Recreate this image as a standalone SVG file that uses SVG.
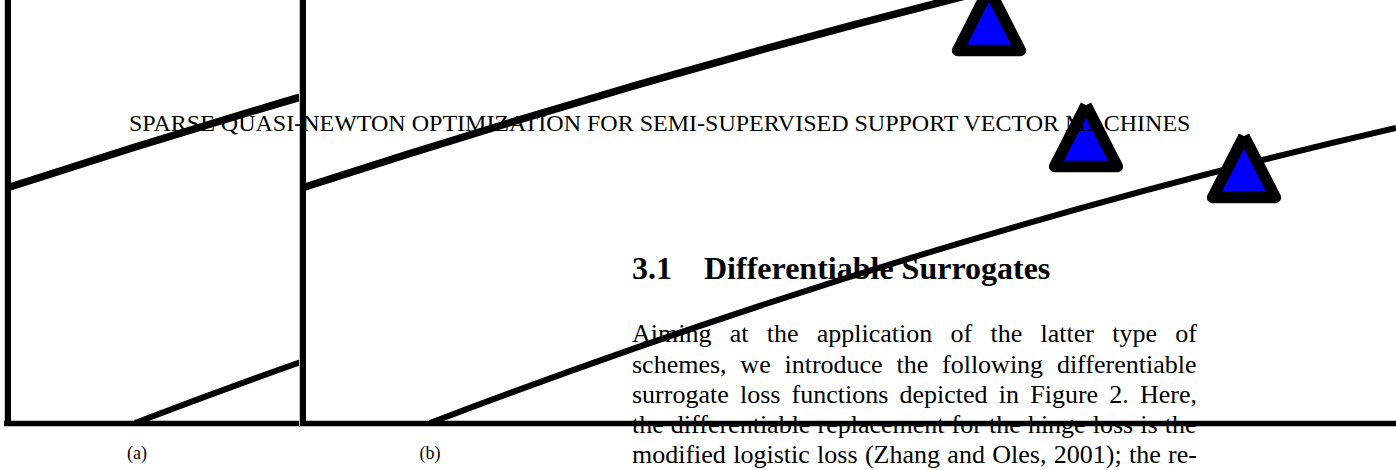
<svg xmlns="http://www.w3.org/2000/svg" width="1396" height="470" viewBox="0 0 1396 470">
  <style>
    .axis { stroke: #000; stroke-width: 6; fill: none; }
    .axis-x { stroke-width: 5.5; }
    .curve { stroke: #000; fill: none; stroke-linecap: butt; }
    .c-upper { stroke-width: 7.5; }
    .c-lower { stroke-width: 6; }
    .marker { fill: #0000ff; stroke: #000; stroke-width: 11.5; stroke-linejoin: round; stroke-linecap: butt; }
    .edge { stroke: #c4c4c4; stroke-width: 1; fill: none; }
    text { font-family: "Liberation Serif", "Times New Roman", serif; fill: #000; }
    .head { font-size: 24px; }
    .sec { font-size: 32px; font-weight: bold; }
    .body { font-size: 26px; }
    .cap { font-size: 18px; text-anchor: middle; }
  </style>
  <defs>
    <clipPath id="clip-a">
      <rect x="4" y="0" width="295" height="470"/>
    </clipPath>
    <!-- the two loss curves, in the coordinates of the right-hand plot -->
    <g id="curves">
      <path class="curve c-upper" d="M305,187 Q655,73 1005,-14"/>
      <path class="curve c-lower" d="M430,423 Q913,239 1396,128"/>
    </g>
    <!-- open triangle outline: butt caps leave the small notch at the apex -->
    <path id="tri" d="M0,-61.4 L31.4,0 L-31.4,0 L0,-61.4"/>
  </defs>

  <!-- left plot: same curves, shifted and cropped -->
  <g id="panel-a">
    <g clip-path="url(#clip-a)">
      <use href="#curves" transform="translate(-295,0)"/>
    </g>
    <line class="edge" x1="4.5" y1="0" x2="4.5" y2="421"/>
    <line class="edge" x1="299.5" y1="0" x2="299.5" y2="427"/>
    <line class="axis" x1="8" y1="0" x2="8" y2="426"/>
    <line class="axis axis-x" x1="4" y1="423.5" x2="299" y2="423.5"/>
  </g>

  <!-- right plot -->
  <g id="panel-b">
    <use href="#curves"/>
    <line class="axis" x1="303" y1="0" x2="303" y2="426"/>
    <line class="axis axis-x" x1="300" y1="423.5" x2="1396" y2="423.5"/>
    <g id="markers">
      <use href="#tri" class="marker" transform="translate(989,50.5)"/>
      <use href="#tri" class="marker" transform="translate(1086,166.5)"/>
      <use href="#tri" class="marker" transform="translate(1244,197.5)"/>
    </g>
  </g>

  <g id="running-head">
    <text class="head" x="129" y="131">SPARSE QUASI-NEWTON OPTIMIZATION FOR SEMI-SUPERVISED SUPPORT VECTOR MACHINES</text>
  </g>

  <g id="section-heading">
    <text class="sec" y="279"><tspan x="632">3.1</tspan><tspan x="704">Differentiable Surrogates</tspan></text>
  </g>

  <!-- justified paragraph: word spacing set per line to fill the column -->
  <g id="paragraph">
    <text class="body" x="632" y="342" style="word-spacing:11.77px">Aiming at the application of the latter type of</text>
    <text class="body" x="632" y="372.5" style="word-spacing:7.29px">schemes, we introduce the following differentiable</text>
    <text class="body" x="632" y="403" style="word-spacing:4.69px">surrogate loss functions depicted in Figure 2. Here,</text>
    <text class="body" x="632" y="433" style="word-spacing:0.59px">the differentiable replacement for the hinge loss is the</text>
    <text class="body" x="632" y="463" style="word-spacing:0.85px">modified logistic loss (Zhang and Oles, 2001); the re-</text>
  </g>

  <g id="captions">
    <text class="cap" x="137" y="459">(a)</text>
    <text class="cap" x="430" y="459">(b)</text>
  </g>
</svg>
